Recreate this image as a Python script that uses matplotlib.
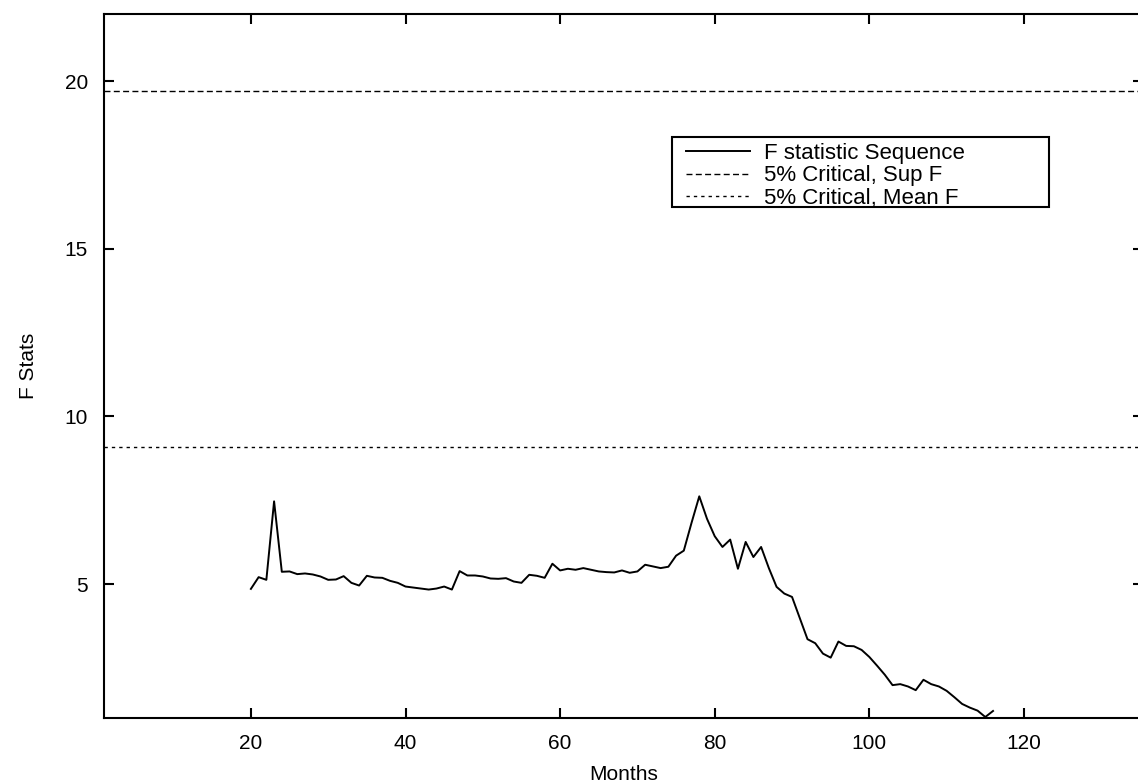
import matplotlib
matplotlib.use('Agg')
import matplotlib.pyplot as plt
from matplotlib.patches import Rectangle
import numpy as np

# Sequence of F statistics, one per candidate break month
months = np.arange(20, 117)
f_stats = [4.86, 5.21, 5.13, 7.47, 5.37, 5.38, 5.30, 5.32, 5.29, 5.23,
		   5.13, 5.14, 5.24, 5.04, 4.96, 5.25, 5.20, 5.19, 5.10, 5.04,
		   4.93, 4.90, 4.87, 4.84, 4.87, 4.93, 4.84, 5.39, 5.26, 5.26,
		   5.23, 5.17, 5.16, 5.18, 5.08, 5.04, 5.28, 5.25, 5.19, 5.61,
		   5.41, 5.46, 5.43, 5.48, 5.43, 5.38, 5.36, 5.35, 5.41, 5.34,
		   5.38, 5.58, 5.53, 5.48, 5.52, 5.85, 6.00, 6.83, 7.62, 6.95,
		   6.43, 6.11, 6.33, 5.46, 6.26, 5.81, 6.11, 5.48, 4.92, 4.72,
		   4.62, 3.99, 3.36, 3.24, 2.93, 2.81, 3.29, 3.16, 3.15, 3.04,
		   2.83, 2.57, 2.30, 1.99, 2.02, 1.95, 1.84, 2.15, 2.02, 1.95,
		   1.82, 1.63, 1.43, 1.32, 1.23, 1.04, 1.22]

critical_sup_f = 19.70  # 5% critical value, Sup F
critical_mean_f = 9.10  # 5% critical value, Mean F

x_ticks = [20, 40, 60, 80, 100, 120]
y_ticks = [5, 10, 15, 20]

plt.rcParams['font.family'] = ['Liberation Sans', 'DejaVu Sans']

figure = plt.figure(figsize = (11.38, 7.84), dpi = 100)
# the right edge of the frame sits just past the border of the figure
axe = figure.add_axes([0.0914, 0.0846, 0.9130, 0.8975])

axe.plot(months, f_stats, color = 'black', linewidth = 1.4, label = 'F statistic Sequence')
axe.axhline(critical_sup_f, color = 'black', linewidth = 1.0, dashes = (4.3, 2.4),
			label = '5% Critical, Sup F')
axe.axhline(critical_mean_f, color = 'black', linewidth = 1.0, dashes = (2.4, 2.9),
			label = '5% Critical, Mean F')

axe.set_xlim(1, 135.4)
axe.set_ylim(1.02, 22)
axe.set_xticks(x_ticks)
axe.set_yticks(y_ticks)

axe.tick_params(direction = 'in', length = 7.5, width = 1.5, top = True, right = True,
				labelsize = 15, pad = 11.5)
for spine in axe.spines.values():
	spine.set_linewidth(1.5)

axe.set_xlabel('Months', fontsize = 15, labelpad = 9)
axe.set_ylabel('F Stats', fontsize = 15, labelpad = 19)

# legend box drawn separately so it can be wider than its entries
axe.add_patch(Rectangle((0.547, 0.726), 0.363, 0.099, transform = axe.transAxes,
						facecolor = 'white', edgecolor = 'black', linewidth = 1.5, zorder = 4.9))
axe.legend(loc = 'upper left', bbox_to_anchor = (0.560, 0.817), frameon = False,
		   fontsize = 16, handlelength = 2.9, handletextpad = 0.63,
		   labelspacing = 0.07, borderpad = 0, borderaxespad = 0)

figure.savefig('out.png', dpi = 100)
